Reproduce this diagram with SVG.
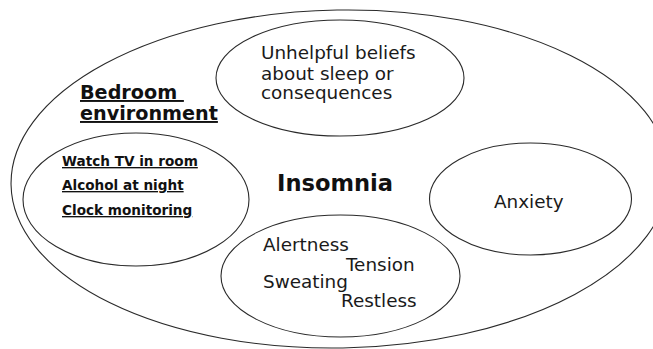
<svg xmlns="http://www.w3.org/2000/svg" width="653" height="349" viewBox="0 0 653 349">
  <style>
    .ring { fill: none; stroke: #2a2a2a; stroke-width: 1.1; }
    .lbl { font-family: "DejaVu Sans", Verdana, sans-serif; font-size: 18.4px; fill: #1a1a1a; }
    .head { font-family: "DejaVu Sans", Verdana, sans-serif; font-weight: bold; fill: #111; text-decoration: underline; }
    .item { font-family: "DejaVu Sans", Verdana, sans-serif; font-weight: bold; font-size: 13.6px; fill: #111; text-decoration: underline; }
    .title { font-family: "DejaVu Sans", Verdana, sans-serif; font-weight: bold; font-size: 22.6px; fill: #111; }
  </style>
  <rect width="653" height="349" fill="#ffffff"/>

  <!-- outer boundary: insomnia -->
  <g id="insomnia">
    <ellipse class="ring" cx="340" cy="179" rx="329" ry="169" transform="rotate(-1 340 179)"/>
    <text class="title" x="277" y="191">Insomnia</text>
  </g>

  <g id="beliefs">
    <ellipse class="ring" cx="340" cy="78" rx="124" ry="58"/>
    <text class="lbl" x="261" y="59">Unhelpful beliefs</text>
    <text class="lbl" x="261" y="80">about sleep or</text>
    <text class="lbl" x="261" y="99">consequences</text>
  </g>

  <g id="bedroom-heading">
    <text class="head" font-size="19.2px" x="80" y="99" xml:space="preserve">Bedroom </text>
    <text class="head" font-size="19.2px" x="80" y="120">environment</text>
  </g>

  <g id="bedroom">
    <ellipse class="ring" cx="136" cy="199.5" rx="113" ry="66.5"/>
    <text class="item" x="62" y="166">Watch TV in room</text>
    <text class="item" x="62" y="190">Alcohol at night</text>
    <text class="item" x="62" y="215">Clock monitoring</text>
  </g>

  <g id="anxiety">
    <ellipse class="ring" cx="530.5" cy="199" rx="101" ry="56"/>
    <text class="lbl" x="494" y="208">Anxiety</text>
  </g>

  <g id="arousal">
    <ellipse class="ring" cx="340.5" cy="276" rx="119.5" ry="61"/>
    <text class="lbl" x="263" y="251">Alertness</text>
    <text class="lbl" x="346" y="271">Tension</text>
    <text class="lbl" x="263" y="288">Sweating</text>
    <text class="lbl" x="341" y="307">Restless</text>
  </g>

  <g id="connectors"/>
</svg>
